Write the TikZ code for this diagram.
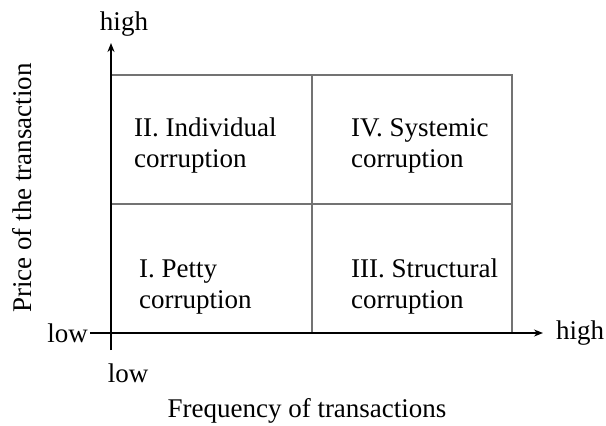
\documentclass[tikz,border=0pt]{standalone}
\usepackage{fontspec}
\setmainfont{Liberation Serif}
\usetikzlibrary{positioning, arrows.meta}
\tikzset{
x=1pt, y=-1pt, % pixel-like units, origin top left
>={Stealth[length=9pt,width=7pt]}, % small filled arrow heads
every node/.style={font=\fontsize{27}{31}\selectfont, inner sep=0pt}, % text size
quadrant/.style={align=left, anchor=west}, % the four cells
grid line/.style={draw=black!55, line width=1.2pt}, % the box lines
}

\begin{document}
\begin{tikzpicture}
        \useasboundingbox (0,0) rectangle (606,426);

        % axes
        \coordinate (origin) at (111,333);
        \coordinate (ybot) at (111,350);
        \coordinate (ytop) at (111,43);
        \coordinate (xleft) at (90,333);
        \coordinate (xright) at (543,333);

        % box corners
        \coordinate (tl) at (111,75);
        \coordinate (tr) at (512,75);
        \coordinate (br) at (512,333);
        \coordinate (tm) at (312,75);
        \coordinate (bm) at (312,333);
        \coordinate (ml) at (111,204);
        \coordinate (mr) at (512,204);

        \draw[grid line] (tl) -- (tr) -- (br);
        \draw[grid line] (tm) -- (bm);
        \draw[grid line] (ml) -- (mr);

        \draw[->, line width=2pt] (ybot) -- (ytop);
        \draw[->, line width=1.3pt] (xleft) -- (xright);

        \node (yhigh) at (124,24) {high};
        \node[left=2pt of xleft] (ylow) {low};
        \node (xlow) at (128,373) {low};
        \node[right=13pt of xright] (xhigh) {high};
        \node[rotate=90] (ylabel) at (22,188) {Price of the transaction};
        \node (xlabel) at (307,411) {Frequency of transactions};

        \node[quadrant] (q2) at (134,146) {II. Individual\\corruption};
        \node[quadrant] (q4) at (351,146) {IV. Systemic\\corruption};
        \node[quadrant] (q1) at (139,287) {I. Petty\\corruption};
        \node[quadrant] (q3) at (351,287) {III. Structural\\corruption};
    \end{tikzpicture}
\end{document}
